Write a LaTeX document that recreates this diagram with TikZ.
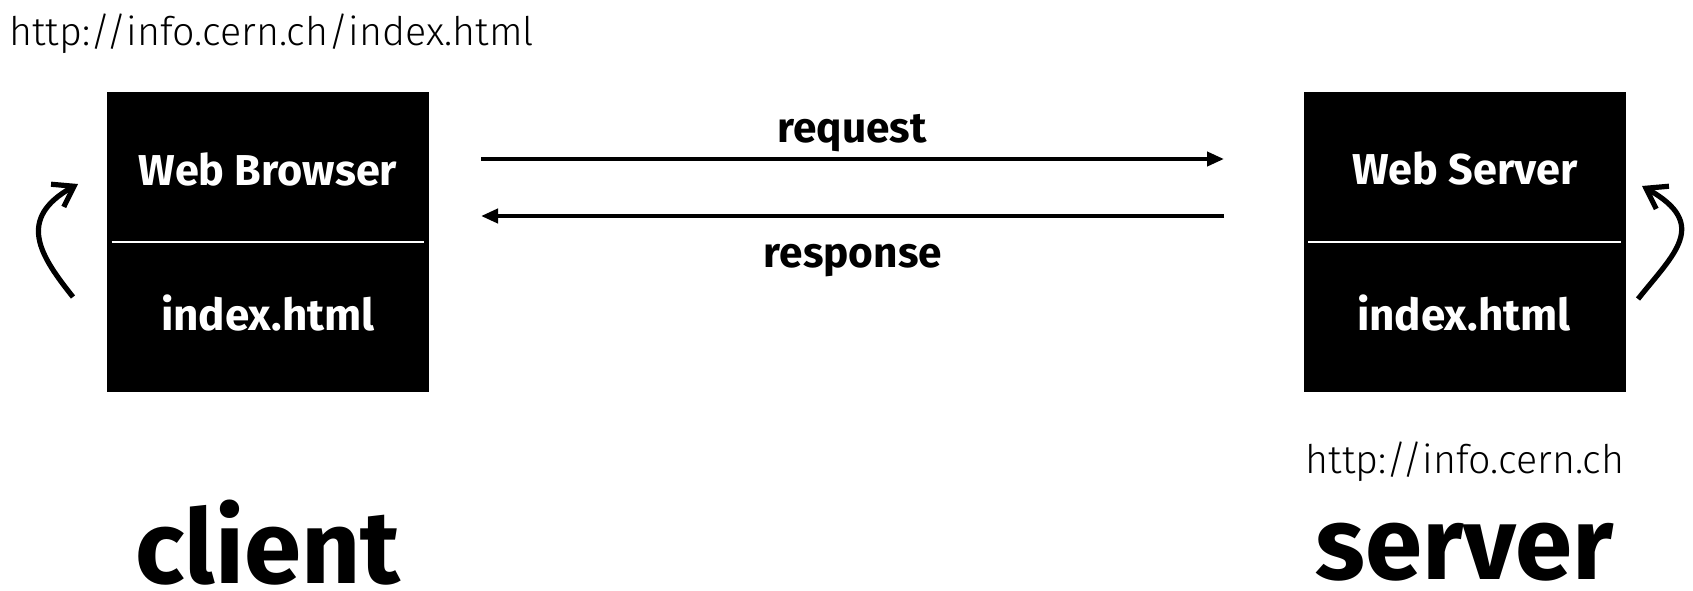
\documentclass[tikz,border=0pt]{standalone}
\usepackage{fontspec}
\setmainfont{Fira Sans}
\newfontfamily\thinfont{Fira Sans Light}
\usepackage{tikz}
\usetikzlibrary{arrows.meta}
\usetikzlibrary{calc}

\begin{document}
\begin{tikzpicture}[x=0.5pt,y=-0.5pt,
  every node/.style={inner sep=0pt},
  machine/.style={fill=black,minimum width=161pt,minimum height=150pt},
  boxtext/.style={text=white,font=\bfseries\fontsize{21.6}{22}\selectfont,anchor=base},
  filetext/.style={text=white,font=\bfseries\fontsize{22}{23}\selectfont,anchor=base},
  msg/.style={font=\bfseries\fontsize{21.2}{22}\selectfont,anchor=base},
  url/.style={font=\thinfont\fontsize{19.7}{20}\selectfont,anchor=base},
  role/.style={font=\bfseries\fontsize{51.5}{52}\selectfont,anchor=base},
  wire/.style={line width=2pt,-{Triangle[length=8.5pt,width=7pt]}},
  loop/.style={line width=2.6pt,-{Straight Barb[length=9.5pt,width=13pt,line width=2.6pt]}}]%client-server
\useasboundingbox (0,0) rectangle (1693,590);
\node[machine] (browser) at (268,242) {};
\node[machine] (webserver) at (1464.5,242) {};
\draw[white,line width=1pt] ($(browser.west)+(5,0)$) -- ($(browser.east)+(-5,0)$);
\draw[white,line width=1pt] ($(webserver.west)+(5,0)$) -- ($(webserver.east)+(-5,0)$);
\node[boxtext] (wb) at (268,185) {Web Browser};
\node[filetext] (cfile) at (268,330) {index.html};
\node[boxtext] (ws) at (1465,184) {Web Server};
\node[filetext] (sfile) at (1464,330) {index.html};
\node[url,anchor=base west] (curl) at (9,45) {http://info.cern.ch/index.html};
\node[url] (surl) at (1465,473) {http://info.cern.ch};
\node[role] (client) at (268,583) {client};
\node[role] (server) at (1465,579) {server};
%messages
\coordinate (reqa) at (481,159);
\coordinate (reqb) at (1224,159);
\coordinate (resa) at (1224,216);
\coordinate (resb) at (481,216);
\draw[wire] (reqa) -- (reqb);
\draw[wire] (resa) -- (resb);
\node[msg] (request) at (852,142) {request};
\node[msg] (response) at (853,267) {response};
%reload loops
\coordinate (cl1) at (73,297);
\coordinate (cl2) at (78,184);
\coordinate (sl1) at (1638,299);
\coordinate (sl2) at (1642,186);
\draw[loop] (cl1) .. controls (40,255.6) and (16,218.8) .. (cl2);
\draw[loop] (sl1) .. controls (1674,253.8) and (1710,224.2) .. (sl2);
\end{tikzpicture}
\end{document}
